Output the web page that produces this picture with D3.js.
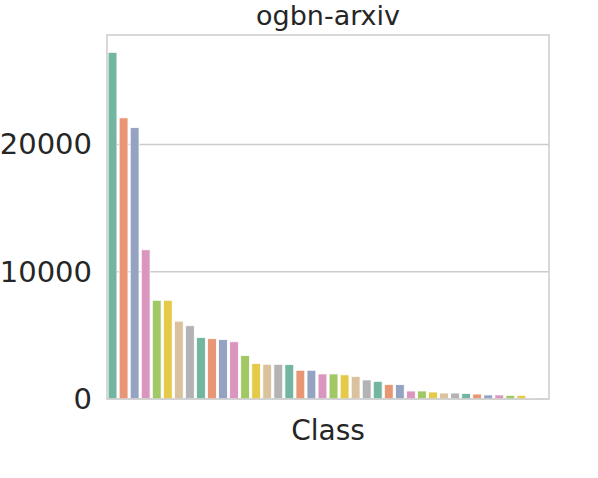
<!DOCTYPE html>
<html>
<head>
<meta charset="utf-8">
<script src="https://cdn.jsdelivr.net/npm/d3@7"></script>
<style>
  body { margin: 0; background: #fff; }
  text { font-family: "DejaVu Sans", sans-serif; fill: #262626; }
</style>
</head>
<body>
<div id="chart"></div>
<script>
(function() {
"use strict";

// classes sorted by node count (labels not shown on the axis)
var classes = ["c01","c02","c03","c04","c05","c06","c07","c08","c09","c10",
               "c11","c12","c13","c14","c15","c16","c17","c18","c19","c20",
               "c21","c22","c23","c24","c25","c26","c27","c28","c29","c30",
               "c31","c32","c33","c34","c35","c36","c37","c38","c39","c40"];
var counts = [27250, 22100, 21330, 11730, 7760, 7760, 6120, 5760, 4840, 4740,
              4680, 4500, 3420, 2790, 2730, 2730, 2710, 2260, 2260, 1970,
              1970, 1900, 1780, 1500, 1390, 1150, 1130, 630, 630, 550,
              470, 470, 440, 390, 320, 320, 290, 290, 40, 30];
var yTicks = [0, 10000, 20000];
var palette = ["#66c2a5", "#fc8d62", "#8da0cb", "#e78ac3",
               "#a6d854", "#ffd92f", "#e5c494", "#b3b3b3"];

var title = "ogbn-arxiv";
var xLabel = "Class";

var W = 598, H = 478;
var margin = {top: 35, right: 49, bottom: 79, left: 107};
var width = W - margin.left - margin.right;
var height = H - margin.top - margin.bottom;

// seaborn-style desaturation of the palette
function desat(c) { var h = d3.hsl(c); h.s *= 0.75; return h.formatHex(); }
var colors = palette.map(desat);

var svg = d3.select("#chart").append("svg")
    .attr("width", W)
    .attr("height", H);

var g = svg.append("g")
    .attr("transform", "translate(" + margin.left + "," + margin.top + ")");

var x = d3.scaleBand()
    .domain(classes)
    .range([0, width])
    .paddingInner(0.2)
    .paddingOuter(0.1);

var y = d3.scaleLinear()
    .domain([0, d3.max(counts) * 1.05])
    .range([height, 0]);

// grid
g.append("g")
    .selectAll("line")
    .data(yTicks)
    .enter().append("line")
    .attr("x1", 0).attr("x2", width)
    .attr("y1", function(d) { return y(d); })
    .attr("y2", function(d) { return y(d); })
    .attr("stroke", "#cccccc")
    .attr("stroke-width", 1.5);

// bars
g.append("g")
    .selectAll("rect")
    .data(counts)
    .enter().append("rect")
    .attr("x", function(d, i) { return x(classes[i]); })
    .attr("width", x.bandwidth())
    .attr("y", function(d) { return y(d); })
    .attr("height", function(d) { return y(0) - y(d); })
    .attr("fill", function(d, i) { return colors[i % colors.length]; })
    .attr("stroke", "#ffffff")
    .attr("stroke-width", 0.8);

// frame
g.append("rect")
    .attr("x", 0).attr("y", 0)
    .attr("width", width).attr("height", height)
    .attr("fill", "none")
    .attr("stroke", "#cccccc")
    .attr("stroke-width", 1.5);

// y axis labels
var yAxis = d3.axisLeft(y).tickValues(yTicks).tickSize(0).tickPadding(15)
    .tickFormat(d3.format("d"));
var ya = g.append("g").call(yAxis);
ya.select(".domain").remove();
ya.selectAll("text")
    .attr("font-size", 29)
    .attr("font-family", "DejaVu Sans, sans-serif")
    .attr("fill", "#262626");

svg.append("text")
    .attr("x", margin.left + width / 2)
    .attr("y", 25)
    .attr("text-anchor", "middle")
    .attr("font-size", 27)
    .text(title);

svg.append("text")
    .attr("x", margin.left + width / 2)
    .attr("y", 440)
    .attr("text-anchor", "middle")
    .attr("font-size", 28)
    .text(xLabel);

})();
</script>
</body>
</html>
